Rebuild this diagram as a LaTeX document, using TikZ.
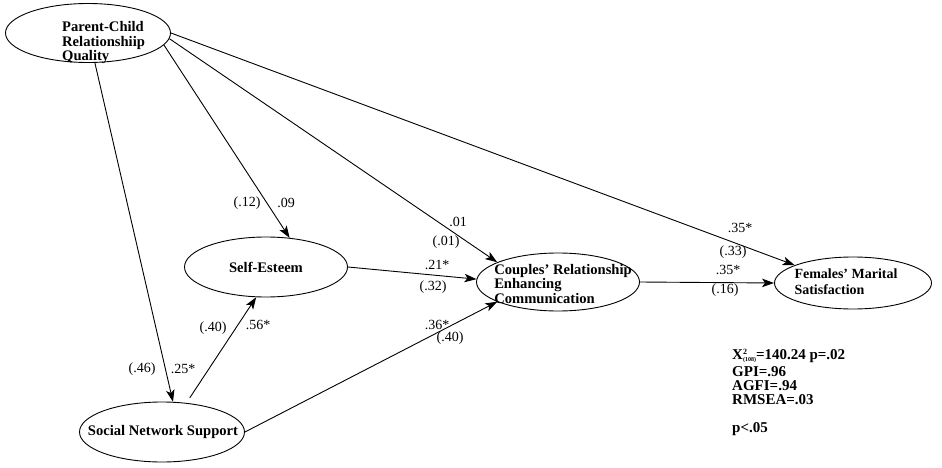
\documentclass[tikz,border=0pt]{standalone}
\usepackage{fontspec}
\setmainfont{Liberation Serif}
\usetikzlibrary{arrows.meta,shapes.geometric}

\begin{document}
\begin{tikzpicture}[x=1pt,y=-1pt,
  font=\fontsize{14}{14.5}\selectfont,
  latent/.style={draw,ellipse,line width=0.9pt,inner sep=0pt},
  vartext/.style={font=\fontsize{14.6}{14.5}\selectfont\bfseries,align=left,inner sep=0pt},
  coef/.style={inner sep=0pt},
  effect/.style={draw,line width=0.9pt,-{Stealth[length=12pt,width=8.5pt,inset=3pt]}}]
\useasboundingbox (0,0) rectangle (942,468);
% latent variables
\node[latent,minimum width=165pt,minimum height=59pt] (pc) at (88,33) {};
\node[latent,minimum width=163pt,minimum height=60pt] (se) at (266,267) {};
\node[latent,minimum width=163pt,minimum height=58pt] (crec) at (558,282) {};
\node[latent,minimum width=157pt,minimum height=52pt] (fms) at (853,283) {};
\node[latent,minimum width=165pt,minimum height=60pt] (sns) at (162,432) {};
\node[vartext,anchor=west] (pctext) at (62,43) {Parent-Child\\Relationshiip\\Quality};
\node[vartext] (setext) at (se) {Self-Esteem};
\node[vartext] (crectext) at (563,284) {Couples' Relationship\\Enhancing\\Communication};
\node[vartext,font=\fontsize{14}{16}\selectfont\bfseries] (fmstext) at (846,282) {Females' Marital\\Satisfaction};
\node[vartext] (snstext) at (163,432) {Social Network Support};
% paths
\draw[effect] (pc) -- (sns.70);
\draw[effect] (pc.-9) -- (se.51);
\draw[effect] (pc.-4) -- (crec.162);
\draw[effect] (pc.east) -- (fms.163);
\draw[effect,shorten <=6pt] (sns.50) -- (se.252);
\draw[effect] (sns.east) -- (crec.198);
\draw[effect] (se.east) -- (crec.178);
\draw[effect] (crec.east) -- (fms.west);
% coefficients
\foreach \x/\y/\t/\n in {142/369/{(.46)}/c46, 183/369/{.25*}/c25, 247/203/{(.12)}/c12,
  286/203/{.09}/c09, 458/222/{.01}/c01, 446/242/{(.01)}/c01b, 740/228/{.35*}/c35a,
  733/252/{(.33)}/c33, 437/265/{.21*}/c21, 433/287/{(.32)}/c32, 728/270/{.35*}/c35b,
  725/290/{(.16)}/c16, 213/328/{(.40)}/c40a, 258/325/{.56*}/c56, 437/325/{.36*}/c36,
  450/338/{(.40)}/c40b}
  \node[coef] (\n) at (\x,\y) {\t};
% fit indices
\node[vartext,font=\fontsize{15}{14}\selectfont\bfseries,anchor=north west] (fit) at (732,349)
  {X\rlap{\raisebox{5pt}{\fontsize{8}{8}\selectfont 2}}\raisebox{-1.5pt}{\fontsize{6}{6}\selectfont (108)}=140.24 p=.02\\[3pt]GPI=.96\\AGFI=.94\\RMSEA=.03\\[14pt]p<.05};
\end{tikzpicture}
\end{document}
